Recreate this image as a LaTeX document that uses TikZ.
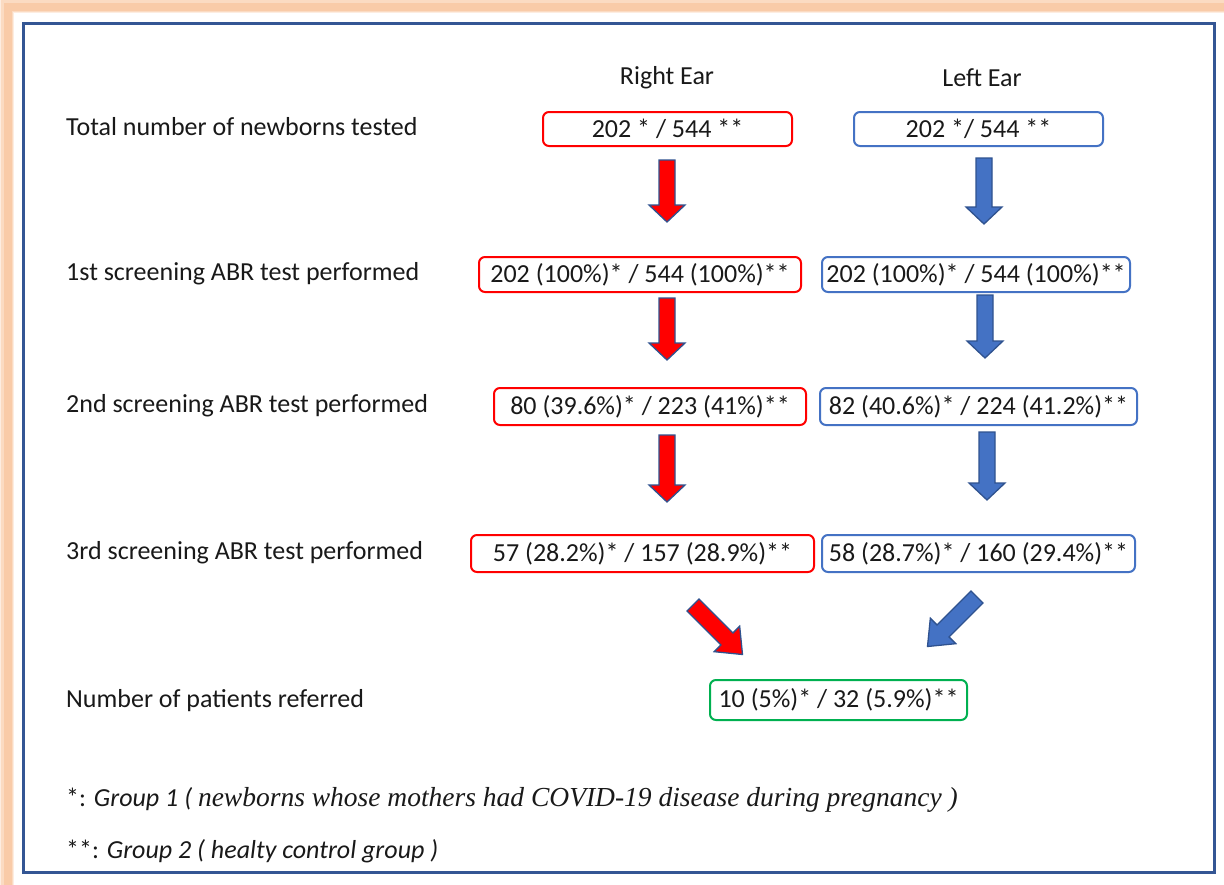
\documentclass[tikz,border=0pt]{standalone}
\usepackage{fontspec}
\setmainfont{Carlito}
\newfontfamily\tnr{Liberation Serif}
\definecolor{peach}{RGB}{249,203,168}
\definecolor{framebl}{RGB}{52,86,148}
\definecolor{boxred}{RGB}{255,0,0}
\definecolor{boxblue}{RGB}{68,114,196}
\definecolor{boxgreen}{RGB}{0,176,80}
\definecolor{arrline}{RGB}{47,82,143}
\definecolor{txt}{RGB}{25,25,25}
\tikzset{
  base/.style={font=\fontsize{26}{30}\selectfont, text=txt, inner sep=0pt},
  rowlabel/.style={base, anchor=west},
  valbox/.style={base, draw, line width=2pt, rounded corners=6pt, align=center},
  redbox/.style={valbox, draw=boxred},
  bluebox/.style={valbox, draw=boxblue},
  greenbox/.style={valbox, draw=boxgreen},
  redarr/.style={fill=boxred, draw=arrline, line width=1.3pt, line join=miter},
  bluearr/.style={fill=boxblue, draw=arrline, line width=1.3pt, line join=miter},
  pics/barrow/.style args={#1/#2/#3/#4}{code={
    \path[pic actions] (-#2,0) -- (-#2,{#1-#4}) -- (-#3,{#1-#4}) -- (0,#1)
      -- (#3,{#1-#4}) -- (#2,{#1-#4}) -- (#2,0) -- cycle;
  }}
}
\begin{document}
\begin{tikzpicture}[x=1pt,y=-1pt]
\useasboundingbox (0,0) rectangle (1224,884);
\fill[white] (0,0) rectangle (1224,884);
% orange glow frame
\draw[peach!35, line width=16pt] (7,6) rectangle (1250,910);
\draw[peach!70, line width=12pt] (7,6) rectangle (1250,910);
\draw[peach, line width=8pt] (8,7) rectangle (1250,910);
\fill[white] (14,13) rectangle (1250,910);
% blue frame
\draw[framebl, line width=3pt] (23.5,23.5) rectangle (1214.5,872.5);

% column headers
\node[base] (rh) at (667,78) {Right Ear};
\node[base] (lh) at (982,78) {Left Ear};

% row labels
\node[rowlabel] (l1) at (66,127) {Total number of newborns tested};
\node[rowlabel] (l2) at (66,274) {1st screening ABR test performed};
\node[rowlabel] (l3) at (66,406) {2nd screening ABR test performed};
\node[rowlabel] (l4) at (66,553) {3rd screening ABR test performed};
\node[rowlabel] (l5) at (66,701) {Number of patients referred};

% boxes
\node[redbox, minimum width=249pt, minimum height=34pt] (r1) at (667.5,129) {202 * / 544 **};
\node[bluebox, minimum width=249pt, minimum height=34pt] (b1) at (978.5,129) {202 */ 544 **};
\node[redbox, minimum width=322pt, minimum height=35pt] (r2) at (640,274.5) {202 (100\%)* / 544 (100\%)**};
\node[bluebox, minimum width=308pt, minimum height=35pt] (b2) at (976,274.5) {202 (100\%)* / 544 (100\%)**};
\node[redbox, minimum width=312pt, minimum height=37pt] (r3) at (650,406.5) {80 (39.6\%)* / 223 (41\%)**};
\node[bluebox, minimum width=317pt, minimum height=37pt] (b3) at (978.5,406.5) {82 (40.6\%)* / 224 (41.2\%)**};
\node[redbox, minimum width=343pt, minimum height=37pt] (r4) at (642.5,553.5) {57 (28.2\%)* / 157 (28.9\%)**};
\node[bluebox, minimum width=313pt, minimum height=37pt] (b4) at (978.5,553.5) {58 (28.7\%)* / 160 (29.4\%)**};
\node[greenbox, minimum width=257pt, minimum height=40pt] (g) at (838.5,700) {10 (5\%)* / 32 (5.9\%)**};

% block arrows
\pic[redarr] at (667,160) {barrow=62/8/18/17};
\pic[bluearr] at (984,158) {barrow=66/8/18/17};
\pic[redarr] at (667,298) {barrow=62/8/18/17};
\pic[bluearr] at (985,295) {barrow=63/8/18/17};
\pic[redarr] at (667,435) {barrow=67/8/18/17};
\pic[bluearr] at (987,432) {barrow=68/8/18/17};
\pic[redarr, rotate=45] at (693,605) {barrow=70/8.5/18/22};
\pic[bluearr, rotate=-45] at (977,597) {barrow=70/8.5/18/22};

% footnotes
\node[rowlabel] (f1) at (66,800) {*: \itshape Group 1 ( {\tnr\fontsize{27.5}{30}\selectfont newborns whose mothers had COVID-19 disease during pregnancy )}};
\node[rowlabel] (f2) at (66,851) {**: \itshape Group 2 ( healty control group )};
\end{tikzpicture}
\end{document}
